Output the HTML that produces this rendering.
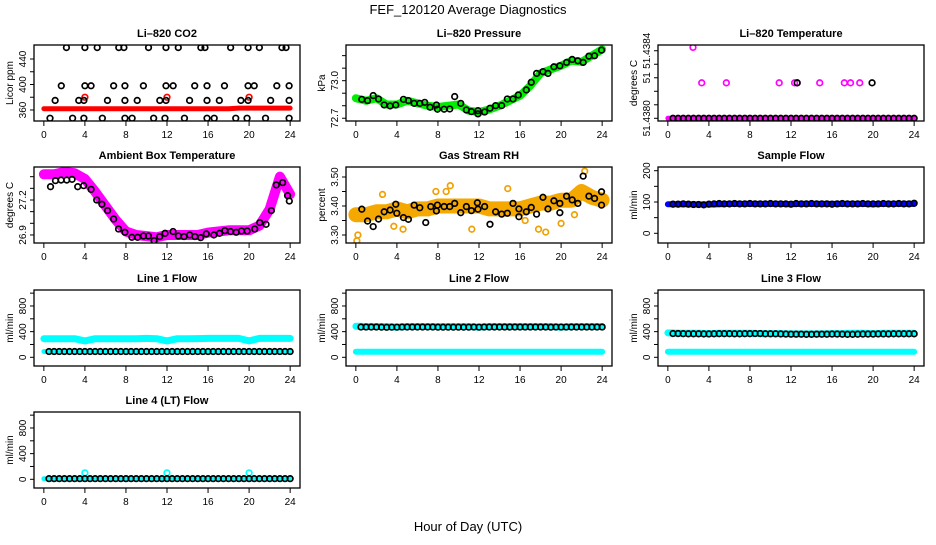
<!DOCTYPE html>
<html><head><meta charset="utf-8"><style>
body{margin:0;background:#fff;width:936px;height:540px;overflow:hidden}
svg text{font-family:"Liberation Sans",Arial,sans-serif}
</style></head><body>
<svg id="chart" width="936" height="540" xmlns="http://www.w3.org/2000/svg">
<rect width="936" height="540" fill="#fff"/>
<text x="468" y="14" text-anchor="middle" font-size="13">FEF_120120  Average Diagnostics</text>
<text x="468" y="531" text-anchor="middle" font-size="13">Hour of Day (UTC)</text>
</svg>
<script>
// ---- data ----
const H = [0.5,1,1.5,2,2.5,3,3.5,4,4.5,5,5.5,6,6.5,7,7.5,8,8.5,9,9.5,10,10.5,11,11.5,12,12.5,13,13.5,14,14.5,15,15.5,16,16.5,17,17.5,18,18.5,19,19.5,20,20.5,21,21.5,22,22.5,23,23.5,24];
const BH = [0,1,2,3,4,5,6,7,8,9,10,11,12,13,14,15,16,17,18,19,20,21,22,23,24];
const xTicks = [0,4,8,12,16,20,24];

// CO2
const co2BandV = [362,362,362,362,362,362,362,362,362,362,362,362,362,362,362,362,362,362,362,363,363,363,363,363,363];
const co2RedH = [4,12,20];
const co2RedV = [380,380,380];
const co2BlackH = [2.2,4.0,5.2,7.3,7.8,10.2,11.9,13.1,15.3,15.7,18.2,19.9,21.0,23.2,23.6,1.7,4.0,4.6,6.8,7.9,9.7,11.9,12.6,14.7,15.9,17.6,19.9,20.5,22.7,23.9,1.1,3.9,3.4,6.2,7.9,9.1,11.3,11.9,14.2,15.9,17.1,19.2,19.9,22.1,23.9,0.6,2.8,3.9,5.7,7.9,8.6,10.7,11.8,13.7,15.9,16.6,18.7,19.8,21.6,23.9];
const co2BlackV = [458,458,458,458,458,458,458,458,458,458,458,458,458,458,458,398,398,398,398,398,398,398,398,398,398,398,398,398,398,398,375,375,375,375,375,375,375,375,375,375,375,375,375,375,375,347,347,347,347,347,347,347,347,347,347,347,347,347,347,347];

// Pressure
const presBandV = [72.86,72.84,72.86,72.81,72.81,72.84,72.82,72.80,72.79,72.80,72.81,72.76,72.75,72.77,72.80,72.84,72.88,72.96,73.06,73.09,73.12,73.16,73.15,73.20,73.25];
const presH = [0.58,1.14,1.69,2.21,2.76,3.34,3.89,4.64,5.12,5.68,6.23,6.71,7.23,7.85,7.95,8.60,9.15,9.63,10.22,10.77,11.26,11.90,11.90,12.55,13.07,13.62,14.21,14.76,15.31,15.83,16.61,17.09,17.61,18.23,18.72,19.30,19.88,20.53,21.08,21.63,22.15,22.71,23.26,23.94];
const presV = [72.851,72.841,72.881,72.854,72.806,72.798,72.806,72.851,72.841,72.819,72.819,72.827,72.788,72.806,72.772,72.772,72.774,72.873,72.819,72.766,72.753,72.761,72.735,72.750,72.780,72.801,72.801,72.854,72.854,72.886,72.926,72.987,73.058,73.072,73.058,73.111,73.119,73.146,73.170,73.159,73.146,73.196,73.199,73.244];

// Li-820 temperature
const tempBaseV = [51.4380,51.4380,51.4380,51.4380,51.4380,51.4380,51.4380,51.4380,51.4380,51.4380,51.4380,51.4380,51.4380,51.4380,51.4380,51.4380,51.4380,51.4380,51.4380,51.4380,51.4380,51.4380,51.4380,51.4380,51.4380];
const tempMagH = [2.45,3.3,5.7,10.85,12.35,12.6,14.8,17.2,17.8,18.7];
const tempMagV = [51.43842,51.43821,51.43821,51.43821,51.43821,51.43821,51.43821,51.43821,51.43821,51.43821];
const tempBlkH = [12.6,19.9];
const tempBlkV = [51.43821,51.43821];
const tempBlkBaseV = [51.4380,51.4380,51.4380,51.4380,51.4380,51.4380,51.4380,51.4380,51.4380,51.4380,51.4380,51.4380,51.4380,51.4380,51.4380,51.4380,51.4380,51.4380,51.4380,51.4380,51.4380,51.4380,51.4380,51.4380,51.4380,51.4380,51.4380,51.4380,51.4380,51.4380,51.4380,51.4380,51.4380,51.4380,51.4380,51.4380,51.4380,51.4380,51.4380,51.4380,51.4380,51.4380,51.4380,51.4380,51.4380,51.4380,51.4380,51.4380];

// Ambient box temperature
const ambBandV = [27.42,27.42,27.44,27.43,27.38,27.27,27.15,27.03,26.93,26.90,26.89,26.88,26.90,26.90,26.90,26.90,26.92,26.93,26.94,26.94,26.94,26.98,27.12,27.40,27.25];
const ambH = [0.65,1.13,1.68,2.23,2.75,3.30,3.88,4.60,5.15,5.66,6.21,6.80,7.28,7.90,8.58,9.13,9.71,10.19,10.74,11.29,11.81,12.59,13.11,13.66,14.21,14.72,15.28,15.83,16.57,17.12,17.64,18.19,18.74,19.26,19.81,20.55,21.04,21.65,22.17,22.65,23.27,23.75,23.92];
const ambV = [27.314,27.366,27.371,27.371,27.377,27.314,27.323,27.291,27.200,27.163,27.109,27.037,26.951,26.923,26.880,26.880,26.891,26.891,26.851,26.886,26.914,26.929,26.891,26.886,26.900,26.886,26.877,26.909,26.900,26.914,26.937,26.929,26.923,26.934,26.934,26.951,27.006,26.991,27.109,27.329,27.349,27.237,27.191];

// Gas stream RH
const rhBandV = [3.37,3.37,3.38,3.38,3.39,3.38,3.39,3.39,3.40,3.40,3.40,3.40,3.40,3.39,3.39,3.39,3.39,3.40,3.41,3.41,3.42,3.42,3.45,3.43,3.42];
const rhOutH = [0.1,0.2,2.6,9.2,8.8,14.8,11.3,18.5,17.8,20.0,3.7,7.8,22.3,21.3,4.6,16.5];
const rhOutV = [3.28,3.30,3.44,3.47,3.45,3.46,3.32,3.31,3.32,3.34,3.33,3.45,3.52,3.37,3.32,3.35];
const rhH = [0.58,1.14,1.69,2.21,2.76,3.34,3.89,3.99,4.64,5.12,5.68,6.23,6.81,7.30,7.85,7.95,8.60,9.15,9.63,10.22,10.77,11.26,11.84,11.90,12.55,13.07,13.62,14.21,14.76,15.31,15.89,15.89,16.61,17.09,17.61,18.23,18.72,19.30,19.88,19.88,20.53,21.08,21.63,22.15,22.71,23.26,23.94,23.94];
const rhV = [3.389,3.348,3.329,3.355,3.380,3.386,3.406,3.375,3.360,3.354,3.403,3.394,3.343,3.398,3.383,3.403,3.398,3.398,3.409,3.377,3.398,3.384,3.411,3.389,3.398,3.337,3.380,3.372,3.375,3.409,3.390,3.363,3.380,3.395,3.372,3.430,3.390,3.418,3.409,3.377,3.434,3.421,3.409,3.503,3.434,3.426,3.449,3.403];

// Sample flow
const sampBandV = [93,93,93,92,92,93,94,94,94,94,94,94,93,94,94,94,94,94,94,94,93,94,94,94,94];
const sampBlkV = [93,93,94,93,92,92,91,93,94,95,94,94,95,94,94,95,94,94,94,95,94,94,94,93,95,94,94,95,94,94,94,93,94,95,94,94,94,95,94,94,94,95,94,94,95,94,94,96];

// Line flows
const l1UpperV = [290,290,290,290,255,290,290,290,290,290,295,290,255,290,290,292,295,295,295,295,255,295,295,295,295];
const l1LowerV = [90,90,90,90,90,90,90,90,90,90,90,90,90,90,90,90,90,90,90,90,90,90,90,90,90];
const l1BlkV = [90,90,90,90,90,90,90,90,90,90,90,90,90,90,90,90,90,90,90,90,90,90,90,90,90,90,90,90,90,90,90,90,90,90,90,90,90,90,90,90,90,90,90,90,90,90,90,90];
const l2UpperV = [485,480,480,480,470,480,480,480,480,480,480,480,470,480,480,480,480,480,480,480,470,480,480,480,480];
const l2LowerV = [85,85,85,85,85,85,85,85,85,85,85,85,85,85,85,85,85,85,85,85,85,85,85,85,85];
const l2BlkV = [472,472,472,472,470,468,470,470,472,472,472,472,472,472,472,470,470,470,470,470,470,470,472,470,472,472,472,472,472,472,472,472,472,472,472,472,472,470,472,472,472,472,472,472,472,472,472,472];
const l3UpperV = [380,375,375,375,370,375,375,375,375,370,370,370,365,365,365,365,370,370,375,375,370,375,375,375,375];
const l3LowerV = [88,88,88,88,88,88,88,88,88,88,88,88,88,88,88,88,88,88,88,88,88,88,88,88,88];
const l3BlkV = [370,370,368,366,366,366,364,364,366,368,368,368,366,366,368,368,370,370,366,366,366,364,362,360,360,360,358,358,360,360,360,362,362,360,358,358,360,362,362,362,364,364,364,366,366,366,366,366];
const l4BandV = [10,10,10,10,10,10,10,10,10,10,10,10,10,10,10,10,10,10,10,10,10,10,10,10,10];
const l4OutH = [4,12,20];
const l4OutV = [100,100,100];
const l4BlkV = [10,10,10,10,10,10,10,10,10,10,10,10,10,10,10,10,10,10,10,10,10,10,10,10,10,10,10,10,10,10,10,10,10,10,10,10,10,10,10,10,10,10,10,10,10,10,10,10];

const flowTicks = [0,200,400,600,800,1000];

// ---- drawing ----
const svg = document.getElementById('chart');
const NS = 'http://www.w3.org/2000/svg';
function mk(tag, attrs, parent){ const e=document.createElementNS(NS,tag); for(const k in attrs) e.setAttribute(k,attrs[k]); (parent||svg).appendChild(e); return e; }
const COLX=[34,346,658], ROWY=[45,167,290,412], W=266, HGT=76;

function panel(name,col,row,ymin,ymax,title,ylab,yTicks,yLabs){
  const L=COLX[col], T=ROWY[row];
  const g=mk('g',{});
  
  
  const P={g,L,T,x:h=>L+(h+0.96)*W/25.92,y:v=>T+(ymax-v)/(ymax-ymin)*HGT};
  const t=mk('text',{x:L+W/2,y:T-8,'text-anchor':'middle','font-size':'11','font-weight':'bold'},g);
  t.textContent=title;
  
  
  const yl=mk('text',{x:0,y:0,'text-anchor':'middle','font-size':'10',transform:`translate(${L-21},${T+HGT/2}) rotate(-90)`},g);
  yl.textContent=ylab;
  
  
  xTicks.forEach(h=>{
    const X=P.x(h);
    mk('line',{x1:X,x2:X,y1:T+HGT,y2:T+HGT+5,stroke:'#000'},g);
    const tx=mk('text',{x:X,y:T+HGT+17,'text-anchor':'middle','font-size':'10'},g);
    tx.textContent=h;
    
    
  });
  yTicks.forEach(v=>{ const Y=P.y(v); mk('line',{x1:L-4,x2:L,y1:Y,y2:Y,stroke:'#000'},g); });
  yLabs.forEach(([v,s])=>{
    const Y=P.y(v);
    const ty=mk('text',{x:0,y:0,'text-anchor':'middle','font-size':'10',transform:`translate(${L-8},${Y}) rotate(-90)`},g);
    ty.textContent=s;
    
    
  });
  P.clip='c'+name;
  const cp=mk('clipPath',{id:P.clip},g); mk('rect',{x:L,y:T,width:W,height:HGT},cp);
  P.layer=mk('g',{'clip-path':`url(#${P.clip})`},g);
  P.finish=()=>{ mk('rect',{x:L,y:T,width:W,height:HGT,fill:'none',stroke:'#000','stroke-width':1.3},g); };
  return P;
}
function band(P,hs,vs,color,w,name){
  const pts=hs.map((h,i)=>P.x(h).toFixed(1)+','+P.y(vs[i]).toFixed(1)).join(' ');
  const e=mk('polyline',{points:pts,fill:'none',stroke:color,'stroke-width':w,'stroke-linecap':'round','stroke-linejoin':'round'},P.layer);
  
  
}
function pts(P,hs,vs,color,name){
  const g=mk('g',{},P.layer);
  
  
  hs.forEach((h,i)=>{ mk('circle',{cx:P.x(h),cy:P.y(vs[i]),r:2.8,fill:'none',stroke:color,'stroke-width':1.7},g); });
}

// CO2
let P=panel('co2',0,0,342.7,462,'Li\u2013820 CO2','Licor ppm',[360,380,400,420,440],[[360,'360'],[400,'400'],[440,'440']]);
band(P,BH,co2BandV,'#ff0000',5,'co2-band');
pts(P,co2RedH,co2RedV,'#ff0000','co2-red-points');
pts(P,co2BlackH,co2BlackV,'#000','co2-black-points');
P.finish();
// Pressure
P=panel('pressure',1,0,72.678,73.285,'Li\u2013820 Pressure','kPa',[72.7,72.8,72.9,73.0,73.1,73.2],[[72.7,'72.7'],[73.0,'73.0']]);
band(P,BH,presBandV,'#00ee00',8,'pressure-band');
pts(P,presH,presV,'#000','pressure-points');
P.finish();
// Li-820 temperature
P=panel('li820-temp',2,0,51.437984,51.438434,'Li\u2013820 Temperature','degrees C',[51.4380,51.43808,51.43816,51.43824,51.43832,51.4384],[[51.4380,'51.4380'],[51.43824,'51'],[51.4384,'51.4384']]);
band(P,BH,tempBaseV,'#ff00ff',5,'temp-band');
pts(P,tempMagH,tempMagV,'#ff00ff','temp-magenta-points');
pts(P,H,tempBlkBaseV,'#000','temp-black-base-points');
pts(P,tempBlkH,tempBlkV,'#000','temp-black-points');
P.finish();
// Ambient
P=panel('ambient',0,1,26.831,27.483,'Ambient Box Temperature','degrees C',[26.9,27.0,27.1,27.2,27.3,27.4],[[26.9,'26.9'],[27.2,'27.2']]);
band(P,BH,ambBandV,'#ff00ff',10,'ambient-band');
pts(P,ambH,ambV,'#000','ambient-points');
P.finish();
// RH
P=panel('rh',1,1,3.2724,3.5345,'Gas Stream RH','percent',[3.30,3.35,3.40,3.45,3.50],[[3.30,'3.30'],[3.40,'3.40'],[3.50,'3.50']]);
band(P,BH,rhBandV,'#f5a800',15,'rh-band');
pts(P,rhOutH,rhOutV,'#f0a000','rh-outlier-points');
pts(P,rhH,rhV,'#000','rh-points');
P.finish();
// Sample flow
P=panel('sample-flow',2,1,-31,211.8,'Sample Flow','ml/min',[0,50,100,150,200],[[0,'0'],[100,'100'],[200,'200']]);
band(P,BH,sampBandV,'#0000ff',6,'sample-band');
pts(P,H,sampBlkV,'#000','sample-points');
P.finish();
// Line flows
const fl=[[0,'0'],[400,'400'],[800,'800']];
P=panel('line1',0,2,-135.6,1049,'Line 1 Flow','ml/min',flowTicks,fl);
band(P,BH,l1UpperV,'#00ffff',7,'line1-upper-band');
band(P,BH,l1LowerV,'#00ffff',5,'line1-lower-band');
pts(P,H,l1BlkV,'#000','line1-points');
P.finish();
P=panel('line2',1,2,-135.6,1049,'Line 2 Flow','ml/min',flowTicks,fl);
band(P,BH,l2UpperV,'#00ffff',7,'line2-upper-band');
band(P,BH,l2LowerV,'#00ffff',6,'line2-lower-band');
pts(P,H,l2BlkV,'#000','line2-points');
P.finish();
P=panel('line3',2,2,-135.6,1049,'Line 3 Flow','ml/min',flowTicks,fl);
band(P,BH,l3UpperV,'#00ffff',7,'line3-upper-band');
band(P,BH,l3LowerV,'#00ffff',6,'line3-lower-band');
pts(P,H,l3BlkV,'#000','line3-points');
P.finish();
P=panel('line4',0,3,-135.6,1049,'Line 4 (LT) Flow','ml/min',flowTicks,fl);
band(P,BH,l4BandV,'#00ffff',5,'line4-band');
pts(P,l4OutH,l4OutV,'#00ffff','line4-outlier-points');
pts(P,H,l4BlkV,'#000','line4-points');
P.finish();
</script>
</body></html>
